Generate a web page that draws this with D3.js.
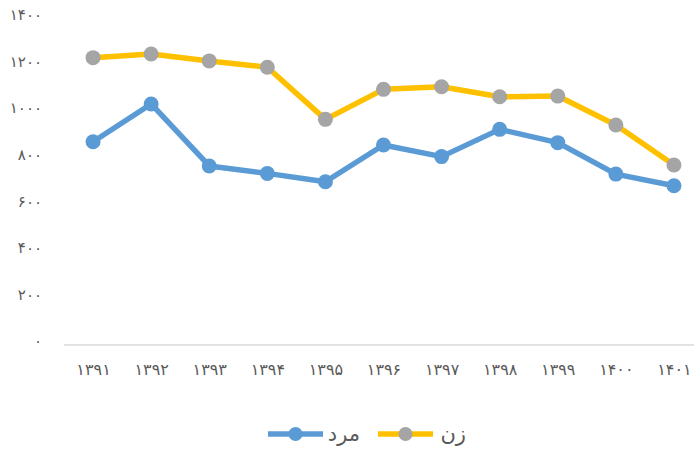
<!DOCTYPE html>
<html>
<head>
<meta charset="utf-8">
<script src="https://cdn.jsdelivr.net/npm/d3@7"></script>
<style>
  html, body { margin: 0; padding: 0; background: #fff; }
  svg { display: block; }
  text { font-family: "DejaVu Sans", sans-serif; fill: #595959; }
</style>
</head>
<body>
<svg id="chart" width="694" height="456"></svg>
<script>
// Years (Solar Hijri)
const categories = ["۱۳۹۱", "۱۳۹۲", "۱۳۹۳", "۱۳۹۴", "۱۳۹۵", "۱۳۹۶", "۱۳۹۷", "۱۳۹۸", "۱۳۹۹", "۱۴۰۰", "۱۴۰۱"];
// Men
const menValues = [873, 1035, 769, 737, 701, 859, 809, 926, 869, 734, 684];
// Women
const womenValues = [1234, 1250, 1220, 1193, 969, 1098, 1109, 1066, 1069, 945, 773];
const yTicks = [0, 200, 400, 600, 800, 1000, 1200, 1400];
const seriesNames = ["مرد", "زن"];

const toPersianDigits = n => String(n).replace(/\d/g, d => "۰۱۲۳۴۵۶۷۸۹"[+d]);

const svg = d3.select("#chart");
const margin = { left: 64, right: -9, top: 19, bottom: 111 };
const W = 694, H = 456;

const x = d3.scalePoint()
  .domain(categories)
  .range([margin.left, W - margin.right])
  .padding(0.5);

const y = d3.scaleLinear()
  .domain([0, 1400])
  .range([H - margin.bottom, margin.top]);

// Y axis: labels only
const yAxis = svg.append("g")
  .attr("transform", "translate(42,0)")
  .call(d3.axisLeft(y).tickValues(yTicks).tickSize(0).tickPadding(0).tickFormat(toPersianDigits));
yAxis.select(".domain").remove();
yAxis.selectAll("text").style("font-size", "15px").attr("dy", "0.05em");

// X axis baseline and labels
const xAxis = svg.append("g")
  .attr("transform", `translate(0,${y(0)})`)
  .call(d3.axisBottom(x).tickSize(0).tickPadding(19));
xAxis.select(".domain").attr("stroke", "#d9d9d9").attr("stroke-width", 1.5)
  .attr("d", `M${margin.left},0H${W}`);
xAxis.selectAll("text").style("font-size", "16px");

const series = [
  { name: seriesNames[0], values: menValues, line: "#5b9bd5", marker: "#5b9bd5" },
  { name: seriesNames[1], values: womenValues, line: "#ffc000", marker: "#a5a5a5" }
];

const line = d3.line()
  .x((d, i) => x(categories[i]))
  .y(d => y(d));

series.forEach(s => {
  const g = svg.append("g");
  g.append("path")
    .datum(s.values)
    .attr("fill", "none")
    .attr("stroke", s.line)
    .attr("stroke-width", 5.5)
    .attr("stroke-linejoin", "round")
    .attr("d", line);
  g.selectAll("circle")
    .data(s.values)
    .join("circle")
    .attr("cx", (d, i) => x(categories[i]))
    .attr("cy", d => y(d))
    .attr("r", 7.5)
    .attr("fill", s.marker);
});

// Legend
const legendY = 434;
const legendItems = [
  { s: series[0], x0: 268, tx: 360 },
  { s: series[1], x0: 378, tx: 466 }
];
legendItems.forEach(({ s, x0, tx }) => {
  svg.append("line")
    .attr("x1", x0).attr("x2", x0 + 55)
    .attr("y1", legendY).attr("y2", legendY)
    .attr("stroke", s.line).attr("stroke-width", 5.5);
  svg.append("circle")
    .attr("cx", x0 + 27.5).attr("cy", legendY).attr("r", 7)
    .attr("fill", s.marker);
  svg.append("text")
    .attr("x", tx).attr("y", legendY + 7)
    .attr("text-anchor", "end")
    .style("font-size", "21px")
    .text(s.name);
});
</script>
</body>
</html>
